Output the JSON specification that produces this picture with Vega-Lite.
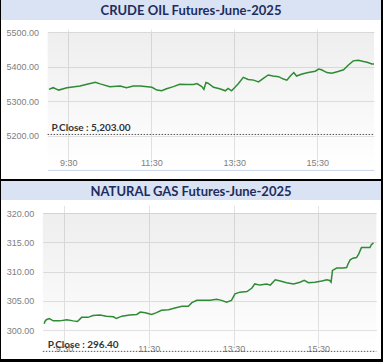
{
  "$schema": "https://vega.github.io/schema/vega-lite/v6.json",
  "background": "black",
  "padding": {"left": 1, "right": 2, "top": 0, "bottom": 3},
  "autosize": {"type": "pad"},
  "spacing": 2,
  "config": {
    "view": {"stroke": null, "fill": "white"},
    "scale": {"zero": false},
    "axis": {"labelFont": "Liberation Sans", "labelFontSize": 9, "labelColor": "#808080", "title": null, "ticks": false, "tickSize": 0, "gridColor": "#e3e3e3", "gridWidth": 1, "labelOverlap": false}
  },
  "datasets": {
    "crude": [
      {"t":"09:02","price":5334},{"t":"09:08","price":5339},{"t":"09:16","price":5332},{"t":"09:28","price":5339},{"t":"09:47","price":5344},{"t":"09:57","price":5349},{"t":"10:09","price":5355},{"t":"10:16","price":5350},{"t":"10:30","price":5342},{"t":"10:45","price":5344},{"t":"10:54","price":5339},{"t":"11:04","price":5344},{"t":"11:14","price":5344},{"t":"11:31","price":5340},{"t":"11:38","price":5332},{"t":"11:45","price":5330},{"t":"11:52","price":5336},{"t":"12:02","price":5342},{"t":"12:11","price":5349},{"t":"12:21","price":5348},{"t":"12:31","price":5348},{"t":"12:36","price":5351},{"t":"12:43","price":5342},{"t":"12:46","price":5334},{"t":"12:49","price":5354},{"t":"12:52","price":5352},{"t":"13:00","price":5340},{"t":"13:09","price":5336},{"t":"13:17","price":5330},{"t":"13:21","price":5337},{"t":"13:26","price":5330},{"t":"13:31","price":5340},{"t":"13:36","price":5351},{"t":"13:43","price":5369},{"t":"13:50","price":5363},{"t":"13:58","price":5361},{"t":"14:05","price":5356},{"t":"14:12","price":5366},{"t":"14:19","price":5376},{"t":"14:26","price":5373},{"t":"14:34","price":5371},{"t":"14:41","price":5364},{"t":"14:46","price":5361},{"t":"14:51","price":5373},{"t":"14:56","price":5383},{"t":"15:00","price":5373},{"t":"15:08","price":5379},{"t":"15:17","price":5383},{"t":"15:27","price":5387},{"t":"15:32","price":5393},{"t":"15:36","price":5391},{"t":"15:44","price":5383},{"t":"15:51","price":5381},{"t":"16:00","price":5386},{"t":"16:08","price":5391},{"t":"16:15","price":5405},{"t":"16:22","price":5417},{"t":"16:29","price":5419},{"t":"16:37","price":5415},{"t":"16:42","price":5413},{"t":"16:49","price":5408},{"t":"16:52","price":5408}
    ],
    "gas": [
      {"t":"09:02","price":301.1},{"t":"09:03","price":301.5},{"t":"09:05","price":301.8},{"t":"09:09","price":302.0},{"t":"09:15","price":301.6},{"t":"09:24","price":301.6},{"t":"09:34","price":301.8},{"t":"09:43","price":301.6},{"t":"09:49","price":301.5},{"t":"09:55","price":302.2},{"t":"10:04","price":302.2},{"t":"10:11","price":302.5},{"t":"10:21","price":302.6},{"t":"10:30","price":302.4},{"t":"10:40","price":302.3},{"t":"10:44","price":302.0},{"t":"10:52","price":302.4},{"t":"11:03","price":302.6},{"t":"11:13","price":302.7},{"t":"11:18","price":303.1},{"t":"11:25","price":303.0},{"t":"11:34","price":302.7},{"t":"11:41","price":303.0},{"t":"11:48","price":303.4},{"t":"11:58","price":303.5},{"t":"12:07","price":303.8},{"t":"12:17","price":304.1},{"t":"12:26","price":304.1},{"t":"12:31","price":304.7},{"t":"12:38","price":305.1},{"t":"12:47","price":305.1},{"t":"12:57","price":305.1},{"t":"13:06","price":305.3},{"t":"13:13","price":305.1},{"t":"13:20","price":304.8},{"t":"13:27","price":305.1},{"t":"13:32","price":306.2},{"t":"13:39","price":306.5},{"t":"13:49","price":306.6},{"t":"13:56","price":307.2},{"t":"14:00","price":307.9},{"t":"14:07","price":307.7},{"t":"14:17","price":307.9},{"t":"14:22","price":307.7},{"t":"14:29","price":308.6},{"t":"14:36","price":308.4},{"t":"14:45","price":308.1},{"t":"14:55","price":307.9},{"t":"15:04","price":308.2},{"t":"15:10","price":308.5},{"t":"15:16","price":308.1},{"t":"15:25","price":308.2},{"t":"15:35","price":308.4},{"t":"15:42","price":308.6},{"t":"15:46","price":308.5},{"t":"15:48","price":308.2},{"t":"15:50","price":310.2},{"t":"15:56","price":310.6},{"t":"16:05","price":310.6},{"t":"16:10","price":310.7},{"t":"16:12","price":311.3},{"t":"16:15","price":312.0},{"t":"16:19","price":312.3},{"t":"16:24","price":312.4},{"t":"16:27","price":313.0},{"t":"16:31","price":314.1},{"t":"16:38","price":314.1},{"t":"16:43","price":314.1},{"t":"16:45","price":314.6},{"t":"16:48","price":314.9}
    ]
  },
  "vconcat": [
    {
      "spacing": 0,
      "vconcat": [
        {
          "data": {"values": [{"name": "CRUDE OIL Futures-June-2025"}]},
          "width": 380, "height": 20,
          "view": {"fill": "#dae3f3", "stroke": null},
          "mark": {"type": "text", "font": "Lato", "fontWeight": "bold", "fontSize": 13, "color": "#1f2d5c", "baseline": "middle", "dy": 1},
          "encoding": {"text": {"field": "name"}}
        },
        {
          "width": 380, "height": 159,
          "layer": [
            {
              "data": {"values": [{"pclose": 5203, "label": "P.Close : 5,203.00"}]},
              "mark": {"type": "rect", "color": {"gradient": "linear", "x1": 0, "y1": 0, "x2": 0, "y2": 1, "stops": [{"offset": 0, "color": "rgba(0,0,0,0.065)"}, {"offset": 1, "color": "rgba(0,0,0,0)"}]}},
              "encoding": {
                "x": {"datum": {"year": 1900, "month": 1, "date": 1, "hours": 9, "minutes": 0}, "type": "temporal",
                  "scale": {"domain": [{"year": 1900, "month": 1, "date": 1, "hours": 9, "minutes": 0}, {"year": 1900, "month": 1, "date": 1, "hours": 16, "minutes": 52}], "range": [46.6, 373]},
                  "axis": {"values": [{"year": 1900, "month": 1, "date": 1, "hours": 9, "minutes": 30}, {"year": 1900, "month": 1, "date": 1, "hours": 11, "minutes": 30}, {"year": 1900, "month": 1, "date": 1, "hours": 13, "minutes": 30}, {"year": 1900, "month": 1, "date": 1, "hours": 15, "minutes": 30}], "format": "%-H:%M", "grid": true, "domain": true, "domainColor": "#c9d5ec", "offset": -9.1, "labelBaseline": "bottom", "labelPadding": -2, "labelFlush": false, "labelOverlap": false}},
                "x2": {"datum": {"year": 1900, "month": 1, "date": 1, "hours": 16, "minutes": 52}},
                "y": {"datum": 5500, "type": "quantitative", "scale": {"domain": [5100, 5500], "range": [149.9, 12.3], "zero": false},
                  "axis": {"values": [5200, 5300, 5400, 5500], "format": ".2f", "grid": true, "domain": false, "offset": -46.6, "labelPadding": 9, "labelOverlap": false}},
                "y2": {"datum": 5100}
              }
            },
            {
              "data": {"name": "crude", "format": {"parse": {"t": "date:'%H:%M'"}}},
              "mark": {"type": "line", "color": "#2e8b34", "strokeWidth": 1.5},
              "encoding": {
                "x": {"field": "t", "type": "temporal"},
                "y": {"field": "price", "type": "quantitative"}
              }
            },
            {
              "data": {"values": [{"pclose": 5203, "label": "P.Close : 5,203.00"}]},
              "mark": {"type": "rule", "color": "#555555", "strokeDash": [1.5, 1.5], "strokeWidth": 1},
              "encoding": {
                "x": {"datum": {"year": 1900, "month": 1, "date": 1, "hours": 9, "minutes": 0}, "type": "temporal"},
                "x2": {"datum": {"year": 1900, "month": 1, "date": 1, "hours": 16, "minutes": 52}},
                "y": {"field": "pclose", "type": "quantitative"}
              }
            },
            {
              "data": {"values": [{"pclose": 5203, "label": "P.Close : 5,203.00"}]},
              "mark": {"type": "text", "align": "left", "baseline": "bottom", "dx": 4, "dy": -1, "font": "Lato", "fontWeight": "bold", "fontSize": 10, "color": "#333333"},
              "encoding": {
                "x": {"datum": {"year": 1900, "month": 1, "date": 1, "hours": 9, "minutes": 0}, "type": "temporal"},
                "y": {"field": "pclose", "type": "quantitative"},
                "text": {"field": "label"}
              }
            }
          ]
        }
      ]
    },
    {
      "spacing": 0,
      "vconcat": [
        {
          "data": {"values": [{"name": "NATURAL GAS Futures-June-2025"}]},
          "width": 380, "height": 19,
          "view": {"fill": "#dae3f3", "stroke": null},
          "mark": {"type": "text", "font": "Lato", "fontWeight": "bold", "fontSize": 13, "color": "#1f2d5c", "baseline": "middle", "dy": 1},
          "encoding": {"text": {"field": "name"}}
        },
        {
          "width": 380, "height": 159,
          "layer": [
            {
              "data": {"values": [{"pclose": 296.4, "label": "P.Close : 296.40"}]},
              "mark": {"type": "rect", "color": {"gradient": "linear", "x1": 0, "y1": 0, "x2": 0, "y2": 1, "stops": [{"offset": 0, "color": "rgba(0,0,0,0.065)"}, {"offset": 1, "color": "rgba(0,0,0,0)"}]}},
              "encoding": {
                "x": {"datum": {"year": 1900, "month": 1, "date": 1, "hours": 9, "minutes": 0}, "type": "temporal",
                  "scale": {"domain": [{"year": 1900, "month": 1, "date": 1, "hours": 9, "minutes": 0}, {"year": 1900, "month": 1, "date": 1, "hours": 16, "minutes": 52}], "range": [41.8, 375.3]},
                  "axis": {"values": [{"year": 1900, "month": 1, "date": 1, "hours": 9, "minutes": 30}, {"year": 1900, "month": 1, "date": 1, "hours": 11, "minutes": 30}, {"year": 1900, "month": 1, "date": 1, "hours": 13, "minutes": 30}, {"year": 1900, "month": 1, "date": 1, "hours": 15, "minutes": 30}], "format": "%-H:%M", "grid": true, "domain": false, "offset": -5.3, "labelBaseline": "bottom", "labelPadding": -0.5, "labelFlush": false, "labelOverlap": false}},
                "x2": {"datum": {"year": 1900, "month": 1, "date": 1, "hours": 16, "minutes": 52}},
                "y": {"datum": 320, "type": "quantitative", "scale": {"domain": [296, 320], "range": [153.7, 13], "zero": false, "nice": false},
                  "axis": {"values": [300, 305, 310, 315, 320], "tickCount": 5, "format": ".2f", "grid": true, "domain": false, "offset": -41.8, "labelPadding": 9, "labelOverlap": false, "labelBound": false}},
                "y2": {"datum": 296}
              }
            },
            {
              "data": {"name": "gas", "format": {"parse": {"t": "date:'%H:%M'"}}},
              "mark": {"type": "line", "color": "#2e8b34", "strokeWidth": 1.5},
              "encoding": {
                "x": {"field": "t", "type": "temporal"},
                "y": {"field": "price", "type": "quantitative"}
              }
            },
            {
              "data": {"values": [{"pclose": 296.4, "label": "P.Close : 296.40"}]},
              "mark": {"type": "rule", "color": "#555555", "strokeDash": [1.5, 1.5], "strokeWidth": 1},
              "encoding": {
                "x": {"datum": {"year": 1900, "month": 1, "date": 1, "hours": 9, "minutes": 0}, "type": "temporal"},
                "x2": {"datum": {"year": 1900, "month": 1, "date": 1, "hours": 16, "minutes": 52}},
                "y": {"field": "pclose", "type": "quantitative"}
              }
            },
            {
              "data": {"values": [{"pclose": 296.4, "label": "P.Close : 296.40"}]},
              "mark": {"type": "text", "align": "left", "baseline": "bottom", "dx": 5, "dy": -1, "font": "Lato", "fontWeight": "bold", "fontSize": 10, "color": "#333333"},
              "encoding": {
                "x": {"datum": {"year": 1900, "month": 1, "date": 1, "hours": 9, "minutes": 0}, "type": "temporal"},
                "y": {"field": "pclose", "type": "quantitative"},
                "text": {"field": "label"}
              }
            }
          ]
        }
      ]
    }
  ]
}
